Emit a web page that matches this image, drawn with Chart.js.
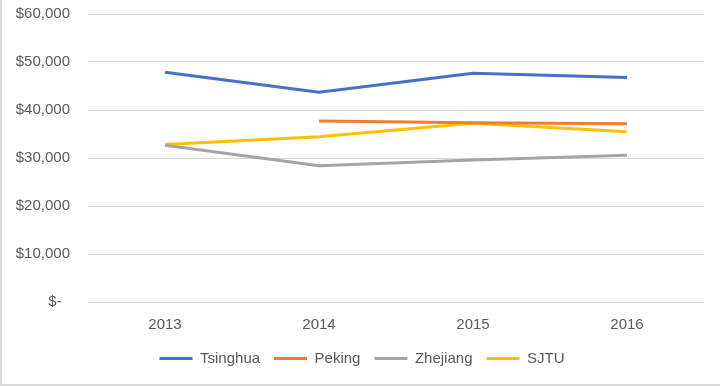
<!DOCTYPE html>
<html>
<head>
<meta charset="utf-8">
<script src="https://cdn.jsdelivr.net/npm/chart.js@4"></script>
<style>
  html, body { margin: 0; padding: 0; background: #fff; }
  #wrap { position: relative; width: 720px; height: 386px; box-sizing: border-box;
          border-left: 2px solid #d9d9d9; border-bottom: 2px solid #d9d9d9; }
  canvas { display: block; }
</style>
</head>
<body>
<div id="wrap"><canvas id="chart" width="718" height="384"></canvas></div>
<script>
// Category labels (years)
const years = ['2013', '2014', '2015', '2016'];

// Series values
const tsinghua = [47850, 43700, 47650, 46750];
const peking = [null, 37700, 37350, 37150];
const zhejiang = [32650, 28400, 29600, 30550];
const sjtu = [32800, 34450, 37250, 35450];

// Axis ticks
const yTicks = [0, 10000, 20000, 30000, 40000, 50000, 60000];

const colors = {
    blue: '#4472C4',
    orange: '#ED7D31',
    gray: '#A5A5A5',
    yellow: '#FFC000',
    text: '#595959',
    grid: '#d9d9d9'
};

function money(v) {
    if (v === 0) return '$-  ';
    return '$' + new Intl.NumberFormat('en-US').format(v);
}

function series(label, data, color) {
    return {
        label: label,
        data: data,
        borderColor: color,
        backgroundColor: color,
        borderWidth: 3,
        pointRadius: 0,
        pointHoverRadius: 0,
        tension: 0,
        spanGaps: false
    };
}

const font = { family: "'Liberation Sans', Arial, sans-serif", size: 15 };

// nudge the legend a little to the right, like the original
const legendShift = {
    id: 'legendShift',
    afterLayout: function(chart) {
        if (chart.legend) chart.legend.left += 18;
    }
};

new Chart(document.getElementById('chart'), {
    type: 'line',
    data: {
        labels: years,
        datasets: [
            series('Tsinghua', tsinghua, colors.blue),
            series('Peking', peking, colors.orange),
            series('Zhejiang', zhejiang, colors.gray),
            series('SJTU', sjtu, colors.yellow)
        ]
    },
    plugins: [legendShift],
    options: {
        responsive: false,
        animation: false,
        layout: { padding: { left: 0, right: 16, top: 14, bottom: 8 } },
        plugins: {
            tooltip: { enabled: false },
            legend: {
                position: 'bottom',
                labels: {
                    color: colors.text,
                    font: font,
                    boxWidth: 33,
                    boxHeight: 3,
                    padding: 14,
                    generateLabels: function(chart) {
                        return Chart.defaults.plugins.legend.labels.generateLabels(chart).map(function(item) {
                            item.lineWidth = 0;
                            return item;
                        });
                    }
                }
            }
        },
        scales: {
            x: {
                offset: true,
                afterFit: function(scale) { scale.height = 35; },
                grid: { display: false, drawTicks: false },
                border: { display: false },
                ticks: { color: colors.text, font: font, padding: 14, maxRotation: 0 }
            },
            y: {
                min: 0,
                max: 60000,
                afterFit: function(scale) { scale.width = 86; },
                afterBuildTicks: function(scale) {
                    scale.ticks = yTicks.map(function(v) { return { value: v }; });
                },
                grid: { color: colors.grid, drawTicks: true, tickLength: 18, tickColor: 'rgba(0,0,0,0)' },
                border: { display: false },
                ticks: {
                    color: colors.text,
                    font: font,
                    padding: 0,
                    callback: function(v) { return money(v); }
                }
            }
        }
    }
});
</script>
</body>
</html>
